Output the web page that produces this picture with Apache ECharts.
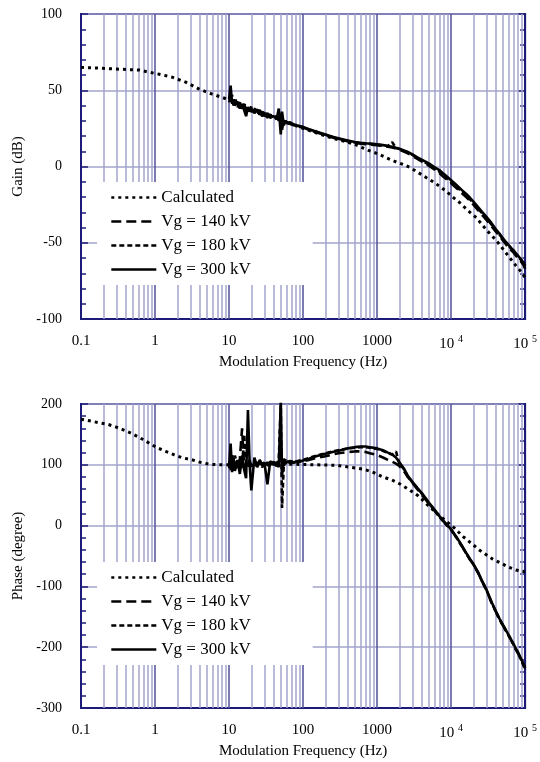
<!DOCTYPE html>
<html>
<head>
<meta charset="utf-8">
<script src="https://cdn.jsdelivr.net/npm/echarts@6/dist/echarts.min.js"></script>
<style>html,body{margin:0;padding:0;background:#fff}#c{width:540px;height:762px}</style>
</head>
<body>
<div id="c"></div>
<script>
// ---------- DATA ----------
const seriesNames = ['Calculated', 'Vg = 140 kV', 'Vg = 180 kV', 'Vg = 300 kV'];
const xTickLabels = ['0.1', '1', '10', '100', '1000', '10 {s|4}', '10 {s|5}'];

const freqMeas = [10,10.5,11,11.5,12,13,14,15,16,17,18,19,20,22,24,26,28,30,33,36,40,44,47,50,52,55,58,62,66,70,76,82,90,100,120,150,200,250,300,400,500,600,700,800,1000,1200,1400,1600,1800,2000,2300,2600,3000,3500,4000,5000,6000,7000,8000,9000,10000,12000,14000,16000,18000,20000,23000,26000,30000,35000,40000,45000,50000,55000,60000,65000,70000,75000,80000,85000,90000,95000,100000];

const gain300 = [44,53,41,44,40,42,38,41,37,33,39,36,38,35,37,34,36,33,35,32,33,31,38,21,36,27,30,28,29,28,27.5,27,26.5,26,24.5,23,21,19.5,18.5,17,16,15.5,15.2,15,14.5,14,13.5,13,12.3,11.7,10.5,9.5,8,6,4.5,2,-0.5,-2.5,-5,-7,-9,-12.5,-15.5,-18,-20.5,-23,-26.5,-29.5,-33,-37,-41,-44,-47,-49.5,-51.5,-53.5,-55,-57,-58.5,-60,-61.5,-63,-65];
const gain140 = [42,45,47,40,43,39,42,37,40,38,35,38,36,37,34,36,33,35,32,34,31,33,30,35,24,31,29,29,28,27.5,27,26.5,26,25.5,24,22.5,20.5,19,18,16.5,15.5,15,14.7,14.4,14,13.5,13,12.5,11.8,11,9.8,8.6,7,5,3.3,0.5,-2,-4.5,-7,-9,-11,-14.5,-17.5,-20,-22.5,-25,-28.5,-31.5,-35,-39,-42.5,-45.5,-48.5,-51,-53,-55,-56.5,-58.5,-60,-61.5,-63,-64.5,-67];
const gain180 = [43,42,44,41,45,40,40,38,41,36,37,39,36,38,35,37,34,35,33,34,32,33,31,33,30,30,29.5,28.5,28,27.5,27,26.5,26.2,25.8,24.3,22.8,20.8,19.3,18.2,16.8,15.8,15.3,15,14.8,14.3,13.8,13.4,16,12.2,11.5,10.3,9.2,7.6,5.6,4,1.3,-1.2,-3.5,-6,-8,-10,-13.5,-16.5,-19,-21.5,-24,-27.5,-30.5,-34,-38,-41.5,-44.5,-47.5,-50,-52,-54,-55.5,-57.5,-59,-60.5,-62,-63.5,-64];

const phase300 = [95,135,88,112,90,108,85,115,92,78,190,100,58,112,96,108,100,104,68,106,100,104,96,205,82,110,102,106,103,105,104,106,105,107,110,114,118,121,123,127,129,130,130,129,127,124,120,117,112,104,94,82,72,62,54,38,26,15,7,0,-6,-20,-33,-45,-55,-63,-76,-90,-105,-125,-140,-153,-163,-172,-180,-188,-195,-203,-208,-215,-221,-228,-235];
const phase140 = [100,98,120,95,104,92,110,160,96,104,98,108,94,102,98,104,96,102,100,97,103,98,104,100,105,99,104,102,105,103,104,105,106,106,108,111,114,117,119,121,122,122,121,119,116,112,108,105,102,98,90,80,70,60,51,36,24,14,6,-1,-7,-21,-34,-46,-56,-64,-77,-91,-106,-126,-141,-154,-164,-173,-181,-189,-196,-204,-210,-216,-223,-229,-233];
const phase180 = [102,90,105,96,115,98,102,95,150,104,96,106,100,96,104,99,103,98,104,100,105,99,110,198,29,104,108,104,106,104,105,106,107,108,111,115,119,122,124,127,128,129,129,128,126,123,119,117,122,102,93,81,71,61,53,37,25,14,6,-1,-7,-21,-34,-46,-56,-64,-77,-91,-106,-126,-141,-154,-164,-173,-181,-189,-196,-203,-209,-217,-222,-230,-238];

const calcGainFreq = [0.1,0.18,0.33,0.62,0.84,1.14,1.7,2.6,3.9,5.8,8.9,12,20,35,60,100,200,300,400,500,600,750,1000,1300,1700,2300,2800,3600,4700,5700,7000,8500,10500,13000,17000,22000,25500,31000,40000,50000,60000,75000,92000,100000];
const calcGain = [65,64.5,63.8,63.2,61.8,60.5,58.6,55.3,50.9,47.6,44.6,42.5,38.5,33.5,29,25,20,17.5,16,14.5,12.8,10.8,8.5,6,3.5,1.2,-0.7,-4,-7.5,-10,-13,-16,-20,-23.6,-29,-33.6,-37.4,-42.4,-48,-54,-59,-65,-70,-73];

const calcPhaseFreq = [0.1,0.18,0.23,0.3,0.4,0.5,0.68,0.88,1.07,1.4,1.8,2.3,3.2,4.1,5.6,7.7,12,20,35,63,158,293,667,907,1174,1590,2040,2760,3620,5100,8700,11200,14500,18700,24000,36400,47500,60500,75000,100000];
const calcPhase = [175,169,166.6,162,156,150.6,142,134,128,122,116.6,111.7,108,104,100.8,100.2,100,100,100.5,101,100,99,92.6,87,80.5,75,68.4,58.5,48.7,31,6.4,-4.5,-18,-29,-40,-55,-62,-68.6,-73,-76];

// ---------- STYLE ----------
const FONT = 'Liberation Serif';
const NAVY = '#1c1c78';
const MINOR = '#a3a3cd';
const DECADE = '#5a5aa0';

const pair = (xs, ys) => xs.map((x, i) => [x, ys[i]]);

// vertical log grid lines (1..9 x each decade)
const vLines = [];
for (let e = -1; e <= 4; e++) {
  for (let k = 1; k <= 9; k++) {
    const v = +(k * Math.pow(10, e)).toPrecision(6);
    if (v <= 0.1) continue;
    vLines.push({ xAxis: v, lineStyle: { color: k === 1 ? DECADE : MINOR, width: k === 1 ? 1.6 : 1.5, type: 'solid' } });
  }
}

const lineStyles = [
  { color: '#000', width: 3, type: [3, 4], cap: 'butt' },
  { color: '#000', width: 2.6, type: [10, 5] },
  { color: '#000', width: 2.6, type: [5, 3] },
  { color: '#000', width: 2.6, type: 'solid' }
];

function gridSeries(idx) {
  return {
    type: 'line', xAxisIndex: idx, yAxisIndex: idx * 2, data: [], z: 1, silent: true,
    markLine: { z: 1, silent: true, symbol: ['none', 'none'], label: { show: false }, animation: false, data: vLines }
  };
}
function dataSeries(idx, k, data) {
  return {
    name: seriesNames[k], type: 'line', xAxisIndex: idx, yAxisIndex: idx * 2, data: data,
    symbol: 'none', showSymbol: false, z: 3 + k, clip: true, lineStyle: lineStyles[k], itemStyle: { color: '#000' }
  };
}

function xAxisDef(idx) {
  return {
    type: 'log', gridIndex: idx, logBase: 10, min: 0.1, max: 100000, splitNumber: 6,
    name: 'Modulation Frequency (Hz)', nameLocation: 'middle', nameGap: 36,
    nameTextStyle: { fontFamily: FONT, fontSize: 15, color: '#000' },
    axisLine: { show: true, onZero: false, lineStyle: { color: NAVY, width: 2 } },
    axisTick: { show: false }, splitLine: { show: false }, minorTick: { show: false },
    axisLabel: {
      margin: 15, color: '#000', fontFamily: FONT, fontSize: 15,
      formatter: v => xTickLabels[Math.round(Math.log10(v)) + 1],
      rich: { s: { fontFamily: FONT, fontSize: 10, color: '#000', padding: [0, 0, 10, 0] } }
    }
  };
}
function yAxisDefs(idx, min, max, interval, name) {
  return [{
    type: 'value', gridIndex: idx, min: min, max: max, interval: interval, position: 'left',
    name: name, nameLocation: 'middle', nameGap: 55,
    nameTextStyle: { fontFamily: FONT, fontSize: 15, color: '#000' },
    axisLine: { show: true, onZero: false, lineStyle: { color: NAVY, width: 2 } },
    axisTick: { show: true, inside: true, length: 7, lineStyle: { color: NAVY, width: 1.5 } },
    minorTick: { show: true, splitNumber: 5, length: 5, lineStyle: { color: NAVY, width: 1.5 } },
    splitLine: { show: true, lineStyle: { color: MINOR, width: 1.5 } },
    axisLabel: { margin: 19, color: '#000', fontFamily: FONT, fontSize: 14 }
  }, {
    type: 'value', gridIndex: idx, min: min, max: max, interval: interval, position: 'right',
    axisLine: { show: true, onZero: false, lineStyle: { color: NAVY, width: 2 } },
    axisTick: { show: true, inside: true, length: 7, lineStyle: { color: NAVY, width: 1.5 } },
    minorTick: { show: true, splitNumber: 5, length: 5, lineStyle: { color: NAVY, width: 1.5 } },
    splitLine: { show: false }, axisLabel: { show: false }
  }];
}
function legendDef(top) {
  return {
    data: seriesNames, orient: 'vertical', left: 97, top: top, itemWidth: 45, itemHeight: 14, itemGap: 7,
    z: 10, backgroundColor: '#fff', padding: [7, 62, 7, 13], selectedMode: false,
    itemStyle: { color: 'rgba(0,0,0,0)', borderColor: 'rgba(0,0,0,0)', borderWidth: 0, opacity: 0 },
    lineStyle: { width: 2.6 },
    textStyle: { fontFamily: FONT, fontSize: 17, color: '#000', lineHeight: 17 }
  };
}

const chart = echarts.init(document.getElementById('c'), null, { renderer: 'canvas' });
chart.setOption({
  animation: false,
  backgroundColor: '#fff',
  grid: [
    { left: 81, top: 14, width: 449, height: 305, show: true, borderColor: NAVY, borderWidth: 2, backgroundColor: 'transparent' },
    { left: 81, top: 404, width: 449, height: 304, show: true, borderColor: NAVY, borderWidth: 2, backgroundColor: 'transparent' }
  ],
  legend: [legendDef(182), legendDef(562)],
  xAxis: [xAxisDef(0), xAxisDef(1)],
  yAxis: [].concat(yAxisDefs(0, -100, 100, 50, 'Gain (dB)'), yAxisDefs(1, -300, 200, 100, 'Phase (degree)')),
  series: [
    gridSeries(0), gridSeries(1),
    dataSeries(0, 0, pair(calcGainFreq, calcGain)),
    dataSeries(0, 1, pair(freqMeas, gain140)),
    dataSeries(0, 2, pair(freqMeas, gain180)),
    dataSeries(0, 3, pair(freqMeas, gain300)),
    dataSeries(1, 0, pair(calcPhaseFreq, calcPhase)),
    dataSeries(1, 1, pair(freqMeas, phase140)),
    dataSeries(1, 2, pair(freqMeas, phase180)),
    dataSeries(1, 3, pair(freqMeas, phase300))
  ]
});
</script>
</body>
</html>
